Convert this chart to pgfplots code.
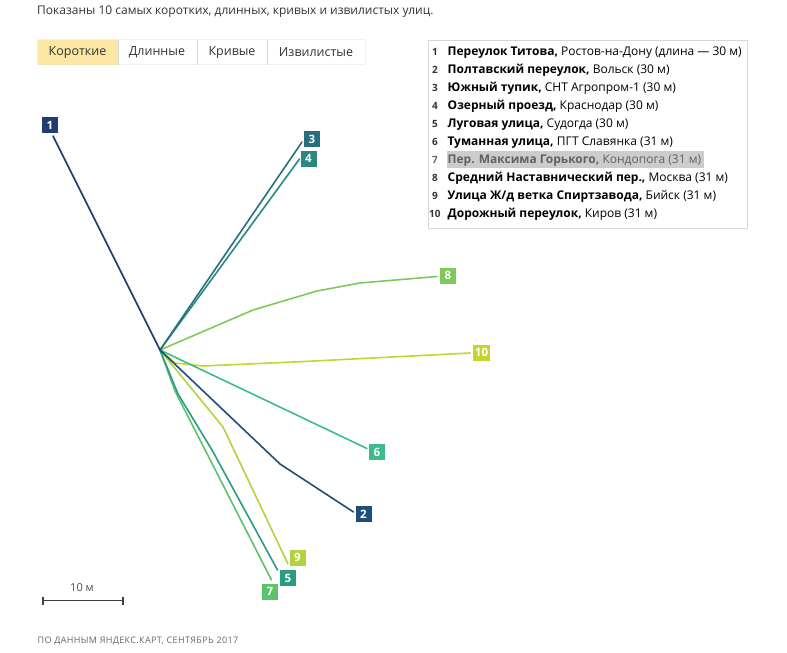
\documentclass[border=0pt]{standalone}
\usepackage{fontspec}
\setmainfont{Open Sans}
\usepackage{pgfplots}
\pgfplotsset{compat=1.18}
\definecolor{c1}{HTML}{1F3D73}
\definecolor{c2}{HTML}{1F4E7A}
\definecolor{c3}{HTML}{28707E}
\definecolor{c4}{HTML}{2A8784}
\definecolor{c5}{HTML}{2A9C82}
\definecolor{c6}{HTML}{3EBB8C}
\definecolor{c7}{HTML}{5DC26C}
\definecolor{c8}{HTML}{7EC85C}
\definecolor{c9}{HTML}{B2D33E}
\definecolor{c10}{HTML}{C6D430}
\definecolor{tabyel}{HTML}{FCE8A2}
\definecolor{txt}{HTML}{333333}
\definecolor{bord}{HTML}{D6D6D6}
\definecolor{hl}{HTML}{CCCCCC}
\begin{document}
\begin{tikzpicture}[
  lab/.style={fill=#1, text=white, font=\fontsize{11.5}{11.5}\selectfont\bfseries, inner sep=0pt, inner xsep=1.5pt, minimum width=16pt, minimum height=16pt},
  leg/.style={anchor=base west, font=\fontsize{12}{13}\selectfont, text=black, inner sep=0pt},
  num/.style={anchor=base west, font=\fontsize{10}{10}\selectfont\bfseries, text=txt, inner sep=0pt}]
\begin{axis}[width=787pt,height=653pt,scale only axis,
  xmin=0,xmax=787,ymin=0,ymax=653,y dir=reverse,hide axis,clip=false,
  every axis plot/.append style={line width=1.6pt, mark=none, line join=round, line cap=round}]
\path (axis cs:0,0) rectangle (axis cs:787,653);
% title
\node[anchor=west, text=txt, font=\fontsize{12}{14}\selectfont, inner sep=0pt] at (axis cs:37,12) {Показаны 10 самых коротких, длинных, кривых и извилистых улиц.};
% tabs
\fill[tabyel] (axis cs:37.5,39.5) rectangle (axis cs:118,64.5);
\draw[bord, rounded corners=2pt] (axis cs:37.5,39.5) rectangle (axis cs:365.5,64.5);
\draw[bord] (axis cs:118,39.5) -- (axis cs:118,64.5);
\draw[bord] (axis cs:197.5,39.5) -- (axis cs:197.5,64.5);
\draw[bord] (axis cs:267,39.5) -- (axis cs:267,64.5);
\node[text=txt, font=\fontsize{12.5}{14}\selectfont] at (axis cs:77.5,52.5) {Короткие};
\node[text=txt, font=\fontsize{12.5}{14}\selectfont] at (axis cs:157,52.5) {Длинные};
\node[text=txt, font=\fontsize{12.5}{14}\selectfont] at (axis cs:232,52.5) {Кривые};
\node[text=txt, font=\fontsize{12.5}{14}\selectfont] at (axis cs:316,52.5) {Извилистые};
% legend box
\draw[bord] (axis cs:428.5,40) rectangle (axis cs:747,228);
\fill[hl] (axis cs:446.5,151) rectangle (axis cs:704,167.5);
\node[num] at (axis cs:432,55) {1};
\node[num] at (axis cs:432,73) {2};
\node[num] at (axis cs:432,91) {3};
\node[num] at (axis cs:432,109) {4};
\node[num] at (axis cs:432,127) {5};
\node[num] at (axis cs:432,145) {6};
\node[num, text=black!60] at (axis cs:432,163) {7};
\node[num] at (axis cs:432,181) {8};
\node[num] at (axis cs:432,199) {9};
\node[num] at (axis cs:429,217) {10};
\node[leg] at (axis cs:447.5,55) {\textbf{Переулок Титова,} Ростов-на-Дону (длина — 30 м)};
\node[leg] at (axis cs:447.5,73) {\textbf{Полтавский переулок,} Вольск (30 м)};
\node[leg] at (axis cs:447.5,91) {\textbf{Южный тупик,} СНТ Агропром-1 (30 м)};
\node[leg] at (axis cs:447.5,109) {\textbf{Озерный проезд,} Краснодар (30 м)};
\node[leg] at (axis cs:447.5,127) {\textbf{Луговая улица,} Судогда (30 м)};
\node[leg] at (axis cs:447.5,145) {\textbf{Туманная улица,} ПГТ Славянка (31 м)};
\node[leg, text=black!62] at (axis cs:447.5,163) {\textbf{Пер. Максима Горького,} Кондопога (31 м)};
\node[leg] at (axis cs:447.5,181) {\textbf{Средний Наставнический пер.,} Москва (31 м)};
\node[leg] at (axis cs:447.5,199) {\textbf{Улица Ж/д ветка Спиртзавода,} Бийск (31 м)};
\node[leg] at (axis cs:447.5,217) {\textbf{Дорожный переулок,} Киров (31 м)};
% streets
\addplot[c10] coordinates {(160,350) (175,363) (203,366) (300,361.7) (470,353)};
\addplot[c9] coordinates {(160,350) (223,427) (288,564)};
\addplot[c8] coordinates {(160,350) (253,310) (317,291) (360,283) (437,276.5)};
\addplot[c7] coordinates {(160,350) (175,391) (271.5,580)};
\addplot[c6] coordinates {(160,350) (367,448.5)};
\addplot[c5] coordinates {(160,350) (178,394) (212,450) (277.5,570)};
\addplot[c4] coordinates {(160,350) (299.5,159)};
\addplot[c3] coordinates {(160,350) (302,142)};
\addplot[c2] coordinates {(160,350) (280,464) (353.5,512)};
\addplot[c1] coordinates {(160,350) (53,136)};
% end labels
\node[lab=c1] at (axis cs:50,125) {1};
\node[lab=c2] at (axis cs:363.5,514) {2};
\node[lab=c3] at (axis cs:312,139) {3};
\node[lab=c4] at (axis cs:308.5,158.5) {4};
\node[lab=c5] at (axis cs:288,578) {5};
\node[lab=c6] at (axis cs:377,452) {6};
\node[lab=c7] at (axis cs:270,591.5) {7};
\node[lab=c8] at (axis cs:448,275.5) {8};
\node[lab=c9] at (axis cs:297.5,557.5) {9};
\node[lab=c10] at (axis cs:481.5,352.5) {10};
% scale bar
\addplot[black!75, line width=1.2pt, line cap=butt] coordinates {(43,600.5) (123,600.5)};
\addplot[black!75, line width=1.2pt, line cap=butt] coordinates {(43,596.5) (43,604.5)};
\addplot[black!75, line width=1.2pt, line cap=butt] coordinates {(123,596.5) (123,604.5)};
\node[text=black!70, font=\fontsize{11}{12}\selectfont] at (axis cs:82,588) {10 м};
% footer
\node[anchor=west, text=black!60, font=\fontsize{9}{10}\selectfont\addfontfeature{LetterSpace=4}, inner sep=0pt] at (axis cs:37.5,641) {ПО ДАННЫМ ЯНДЕКС.КАРТ, СЕНТЯБРЬ 2017};
\end{axis}
\end{tikzpicture}
\end{document}
